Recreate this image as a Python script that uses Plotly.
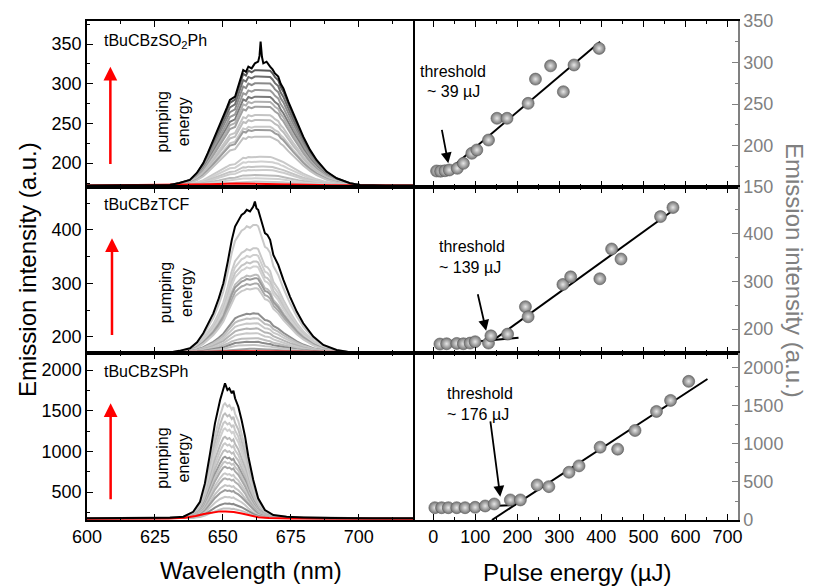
import plotly.graph_objects as go

# ---------------- data ----------------
# Spectra (left column): top black curve, gray curve peak levels
wl_so2 = [600, 615, 630.5, 634, 637.9, 640.5, 642.8, 644.5, 646.5, 648.5,
          650.2, 651.5, 652.6, 654.5, 655.5, 656.3, 657.5, 658.5, 659.4, 660.6,
          661.8, 663.0, 663.5, 663.9, 664.4, 664.9, 666.1, 667.4, 668.3, 669.2,
          670.4, 671.3, 672.3, 674.1, 675.9, 677.8, 679.6, 682.1, 684.5, 688.2,
          691.9, 696.8, 700.5, 710, 720]
black_so2 = [172, 172, 172.6, 175, 179, 188, 200, 213, 229, 244,
             258.6, 270, 279.6, 283.7, 295, 304.7, 317.3, 315, 321.5, 319.4,
             325.7, 327.8, 335, 353, 334, 325.7, 327.8, 321.5, 318, 313,
             309, 300, 294, 277.4, 262.8, 248, 233.4, 216.7, 204, 189.4,
             181, 174.8, 172.6, 172, 172]
levels_so2 = [317, 309, 300.6, 292, 283.7, 277.4, 271, 260.7, 254.4, 246,
              241.8, 233.4, 208, 202, 195.7, 191.5, 185, 181, 176.8]
shades_so2 = ['#5a5a5a', '#6e6e6e', '#8a8a8a', '#9a9a9a', '#7a7a7a', '#b0b0b0',
              '#a0a0a0', '#c4c4c4', '#bdbdbd', '#c8c8c8', '#9c9c9c', '#c0c0c0',
              '#c8c8c8', '#d0d0d0', '#c4c4c4', '#cccccc', '#bbbbbb', '#d0d0d0', '#c8c8c8']
red_wl_so2 = [600, 635, 645, 655, 665, 675, 690, 720]
red_so2 = [172, 172.5, 173.5, 174.5, 174, 173, 172.3, 172]

wl_tcf = [600, 615, 630.5, 634, 637.9, 640.5, 642.8, 644.5, 646.5, 648.5,
          650.2, 651.8, 653.3, 654.5, 655.7, 656.9, 658.0, 658.8, 660.0, 661.2,
          661.8, 662.4, 663.0, 664.3, 665.5, 666.4, 667.4, 668.6, 670.4, 672.3,
          674.7, 677.2, 679.6, 683.3, 687.0, 691.9, 696.8, 702, 710, 720]
black_tcf = [171, 171, 171, 174, 178.9, 190, 206.9, 224, 244, 272,
             300.3, 340, 381.3, 406.2, 418, 428, 432, 437.4, 434.3, 443.6,
             452.9, 440, 437.4, 415.5, 393.8, 390.7, 381.3, 353.3, 334.6, 306.5,
             275.3, 247.3, 225.6, 200.6, 185, 175.7, 171.4, 171, 171, 171]
levels_tcf = [409, 365.8, 353, 340.8, 331.5, 316, 309.7, 300, 291, 244,
              235, 225.6, 216, 207, 197.6, 191, 185, 178]
shades_tcf = ['#c8c8c8', '#c8c8c8', '#cfcfcf', '#c4c4c4', '#d0d0d0', '#bcbcbc',
              '#9a9a9a', '#a8a8a8', '#c8c8c8', '#8e8e8e', '#bdbdbd', '#c8c8c8',
              '#b4b4b4', '#c8c8c8', '#bdbdbd', '#8a8a8a', '#c4c4c4', '#a0a0a0']
red_wl_tcf = [600, 635, 645, 655, 665, 675, 690, 720]
red_tcf = [171, 171.5, 172.5, 173.5, 173, 172, 171.3, 171]

wl_sph = [600, 620, 630.5, 635.5, 639.1, 641.6, 643.4, 645.3, 647.1, 649.0,
          650.2, 650.8, 651.7, 652.4, 653.3, 653.9, 654.5, 655.7, 656.9, 658.2,
          659.4, 661.2, 663.0, 665.5, 668.6, 673.5, 679.6, 690, 705, 720]
black_sph = [178, 178, 183, 196, 257, 380, 606, 975, 1344, 1631,
             1775, 1836, 1754, 1775, 1713, 1746, 1652, 1549, 1385, 1180,
             934, 647, 422, 278, 217, 196, 188, 180, 178, 178]
levels_sph = [1590, 1467, 1365, 1283, 1180, 1098, 1016, 934, 872, 811,
              729, 668, 585, 524, 442, 360, 299]
shades_sph = ['#c8c8c8', '#bdbdbd', '#c8c8c8', '#cfcfcf', '#b8b8b8', '#c8c8c8',
              '#bdbdbd', '#9a9a9a', '#c4c4c4', '#a8a8a8', '#c8c8c8', '#b0b0b0',
              '#c4c4c4', '#9c9c9c', '#c8c8c8', '#8a8a8a', '#c0c0c0']
red_wl_sph = [600, 630, 636, 640, 643, 646, 649, 651, 654, 657, 660, 663, 667, 675, 720]
red_sph = [172, 175, 185, 205, 230, 250, 262, 262, 255, 235, 210, 190, 180, 175, 172]

# Threshold plots (right column)
E_so2 = [8.1, 17.7, 28, 38.3, 57.4, 71.8, 91.9, 103.8, 131.6, 151.7,
         175.6, 225.8, 243.3, 279.2, 309.6, 335, 394.7]
I_so2 = [169.3, 169, 169.6, 170.5, 172.5, 178.5, 190.6, 194.6, 206.6, 232.8,
         232.8, 250.8, 280, 296, 264.8, 297, 317]
fitlow_E_so2 = [8, 45]
fitlow_I_so2 = [169, 170.5]
fithigh_E_so2 = [32, 397]
fithigh_I_so2 = [168.5, 325]

E_tcf = [16, 32, 56, 71.8, 87.8, 99.8, 131.6, 137.3, 177, 219.4,
         225.8, 308.6, 327, 396.4, 424.4, 446.7, 540.7, 570.3]
I_tcf = [168.8, 169.4, 170.1, 169.4, 170.8, 173.6, 170.8, 186, 189.6, 247,
         226, 293.7, 309.7, 305.6, 368, 347, 436, 455]
fitlow_E_tcf = [16, 203]
fitlow_I_tcf = [167.3, 182]
fithigh_E_tcf = [135.6, 570]
fithigh_I_tcf = [172.2, 448.6]

E_sph = [4, 20, 36, 56, 75.8, 99.8, 123.7, 145.2, 183.5, 207.4,
         247.4, 275.1, 323, 346.9, 397.1, 438.8, 480.1, 531.1, 564.6, 607.7]
I_sph = [162, 162, 162, 162, 162, 167, 184.6, 211, 264, 264,
         461, 439, 628, 712, 958, 932, 1178, 1428, 1573, 1824]
fitlow_E_sph = [6.5, 195.5]
fitlow_I_sph = [154, 198]
fithigh_E_sph = [139.7, 652.4]
fithigh_I_sph = [0, 1855]

names = ['tBuCBzSO<sub>2</sub>Ph', 'tBuCBzTCF', 'tBuCBzSPh']
threshold_texts = ['~ 39 \u00b5J', '~ 139 \u00b5J', '~ 176 \u00b5J']

# ---------------- figure ----------------
FONT = 'Liberation Sans, Arial, sans-serif'
GRAY_AX = '#808080'
OFF = 8                      # page body margin: figure is drawn 8 px from the corner
W, H = 816 - OFF, 587 - OFF


def px(v):
    return (v - OFF) / W


def py(v):
    return 1 - (v - OFF) / H


xl = [px(87), px(413)]
xr = [px(413), px(738)]
yd = [[py(187), py(21)], [py(353), py(187)], [py(520), py(353)]]

left_ranges = [[170, 379], [170, 480], [156, 2209]]
left_dt = [(50, 25), (100, 50), (500, 250)]
right_ranges = [[150, 350], [150, 498], [0, 2197]]
right_dt = [(50, 25), (100, 50), (500, 250)]

fig = go.Figure()

panels = [
    (wl_so2, black_so2, levels_so2, shades_so2, red_wl_so2, red_so2, 172, 322),
    (wl_tcf, black_tcf, levels_tcf, shades_tcf, red_wl_tcf, red_tcf, 171, 440),
    (wl_sph, black_sph, levels_sph, shades_sph, red_wl_sph, red_sph, 178, 1800),
]
rights = [
    (E_so2, I_so2, fitlow_E_so2, fitlow_I_so2, fithigh_E_so2, fithigh_I_so2),
    (E_tcf, I_tcf, fitlow_E_tcf, fitlow_I_tcf, fithigh_E_tcf, fithigh_I_tcf),
    (E_sph, I_sph, fitlow_E_sph, fitlow_I_sph, fithigh_E_sph, fithigh_I_sph),
]

for r in range(3):
    li = 2 * r + 1
    ri = 2 * r + 2
    xa_l, ya_l = f'x{li}', f'y{li}'
    xa_r, ya_r = f'x{ri}', f'y{ri}'
    wl, blk, levels, shades, rwl, rval, base, ref = panels[r]
    # gray spectra: the measured top spectrum scaled to each read peak level
    for lev, col in zip(levels, shades):
        f = (lev - base) / (ref - base)
        ys = [min(base + (b - base) * f, lev) for b in blk]
        fig.add_trace(go.Scatter(x=wl, y=ys, mode='lines', xaxis=xa_l, yaxis=ya_l,
                                 line=dict(color=col, width=2), showlegend=False,
                                 hoverinfo='skip'))
    fig.add_trace(go.Scatter(x=rwl, y=rval, mode='lines', xaxis=xa_l, yaxis=ya_l,
                             line=dict(color='#ff0000', width=2), showlegend=False))
    fig.add_trace(go.Scatter(x=wl, y=blk, mode='lines', xaxis=xa_l, yaxis=ya_l,
                             line=dict(color='black', width=2), showlegend=False))

    E, I, flE, flI, fhE, fhI = rights[r]
    fig.add_trace(go.Scatter(x=flE, y=flI, mode='lines', xaxis=xa_r, yaxis=ya_r,
                             line=dict(color='black', width=2), showlegend=False))
    fig.add_trace(go.Scatter(x=fhE, y=fhI, mode='lines', xaxis=xa_r, yaxis=ya_r,
                             line=dict(color='black', width=2), showlegend=False))
    fig.add_trace(go.Scatter(x=E, y=I, mode='markers', xaxis=xa_r, yaxis=ya_r,
                             marker=dict(size=12, color='#747474',
                                         gradient=dict(type='radial', color='#e6e6e6'),
                                         line=dict(width=0.6, color='#5a5a5a')),
                             showlegend=False))

    bottom = (r == 2)
    common_x = dict(showline=True, linecolor='black', linewidth=1.5, mirror='ticks',
                    ticks='inside', ticklen=6, tickwidth=1.2, tickcolor='black',
                    showgrid=False, zeroline=False, showticklabels=bottom,
                    automargin=False,
                    tickfont=dict(family=FONT, size=18, color='black'))
    fig.update_layout(**{
        f'xaxis{li}': dict(common_x, domain=xl, anchor=ya_l, range=[600, 720],
                           dtick=25, tick0=600,
                           minor=dict(dtick=12.5, ticklen=3, ticks='inside', tickcolor='black')),
        f'xaxis{ri}': dict(common_x, domain=xr, anchor=ya_r, range=[-48, 725],
                           dtick=100, tick0=0,
                           minor=dict(dtick=50, ticklen=3, ticks='inside', tickcolor='black')),
        f'yaxis{li}': dict(domain=yd[r], anchor=xa_l, range=left_ranges[r],
                           showline=True, linecolor='black', linewidth=1.5, mirror=True,
                           ticks='inside', ticklen=6, tickwidth=1.2, tickcolor='black',
                           dtick=left_dt[r][0], automargin=False,
                           minor=dict(dtick=left_dt[r][1], ticklen=3, ticks='inside', tickcolor='black'),
                           showgrid=False, zeroline=False,
                           tickfont=dict(family=FONT, size=18, color='black')),
        f'yaxis{ri}': dict(domain=yd[r], anchor=xa_r, range=right_ranges[r], side='right',
                           showline=True, linecolor=GRAY_AX, linewidth=1.5,
                           ticks='inside', ticklen=6, tickwidth=1.2, tickcolor=GRAY_AX,
                           dtick=right_dt[r][0], automargin=False,
                           minor=dict(dtick=right_dt[r][1], ticklen=3, ticks='inside', tickcolor=GRAY_AX),
                           showgrid=False, zeroline=False,
                           tickfont=dict(family=FONT, size=18, color=GRAY_AX)),
    })

# ---------------- annotations ----------------
ann = []
name_pos = [(605.4, 353), (605.4, 447), (605.4, 1979)]
pump_pos = [(631.5, 252), (633, 283), (631.8, 914)]
red_arrows = [((608.6, 321.5), (608.6, 197)), ((609.2, 384.5), (609.2, 200.6)),
              ((608.7, 1590), (608.7, 392))]
thr_pos = [((-36.6, 288.6), (-20, 264.5)), ((8.9, 373.5), (8.9, 329)),
           ((28, 1670), (28, 1384))]
blk_arrows = [((35.9, 178.5), (20, 220.7)), ((126, 196.7), (105.3, 276.4)),
              ((159.5, 307), (135.6, 1318))]
for r in range(3):
    li, ri = 2 * r + 1, 2 * r + 2
    ann.append(dict(x=name_pos[r][0], y=name_pos[r][1], xref=f'x{li}', yref=f'y{li}',
                    text=names[r], showarrow=False, xanchor='left', yanchor='middle',
                    font=dict(family=FONT, size=16, color='black')))
    ann.append(dict(x=pump_pos[r][0], y=pump_pos[r][1], xref=f'x{li}', yref=f'y{li}',
                    text='pumping<br>energy', showarrow=False, textangle=-90,
                    xanchor='center', yanchor='middle',
                    font=dict(family=FONT, size=16, color='black')))
    (hx, hy), (tx, ty) = red_arrows[r]
    ann.append(dict(x=hx, y=hy, ax=tx, ay=ty, xref=f'x{li}', yref=f'y{li}',
                    axref=f'x{li}', ayref=f'y{li}', text='', showarrow=True,
                    arrowhead=2, arrowsize=1.1, arrowwidth=2.5, arrowcolor='#ff0000'))
    (t1x, t1y), (t2x, t2y) = thr_pos[r]
    ann.append(dict(x=t1x, y=t1y, xref=f'x{ri}', yref=f'y{ri}', text='threshold',
                    showarrow=False, xanchor='left', yanchor='middle',
                    font=dict(family=FONT, size=16, color='black')))
    ann.append(dict(x=t2x, y=t2y, xref=f'x{ri}', yref=f'y{ri}', text=threshold_texts[r],
                    showarrow=False, xanchor='left', yanchor='middle',
                    font=dict(family=FONT, size=16, color='black')))
    (hx, hy), (tx, ty) = blk_arrows[r]
    ann.append(dict(x=hx, y=hy, ax=tx, ay=ty, xref=f'x{ri}', yref=f'y{ri}',
                    axref=f'x{ri}', ayref=f'y{ri}', text='', showarrow=True,
                    arrowhead=2, arrowsize=1.2, arrowwidth=1.8, arrowcolor='black'))

ann.append(dict(x=px(251), y=py(570), xref='paper', yref='paper',
                xanchor='center', yanchor='middle',
                text='Wavelength (nm)', showarrow=False,
                font=dict(family=FONT, size=24, color='black')))
ann.append(dict(x=px(577), y=py(572), xref='paper', yref='paper',
                xanchor='center', yanchor='middle',
                text='Pulse energy (\u00b5J)', showarrow=False,
                font=dict(family=FONT, size=24, color='black')))
ann.append(dict(x=px(27), y=py(270), xref='paper', yref='paper',
                xanchor='center', yanchor='middle',
                text='Emission intensity (a.u.)', showarrow=False, textangle=-90,
                font=dict(family=FONT, size=24, color='black')))
ann.append(dict(x=px(795), y=py(270), xref='paper', yref='paper',
                xanchor='center', yanchor='middle',
                text='Emission intensity (a.u.)', showarrow=False, textangle=90,
                font=dict(family=FONT, size=24, color=GRAY_AX)))

fig.update_layout(width=W, height=H, margin=dict(l=0, r=0, t=0, b=0, autoexpand=False),
                  paper_bgcolor='white', plot_bgcolor='white',
                  annotations=ann, showlegend=False,
                  font=dict(family=FONT, size=16, color='black'))

fig.write_html('out.html')
